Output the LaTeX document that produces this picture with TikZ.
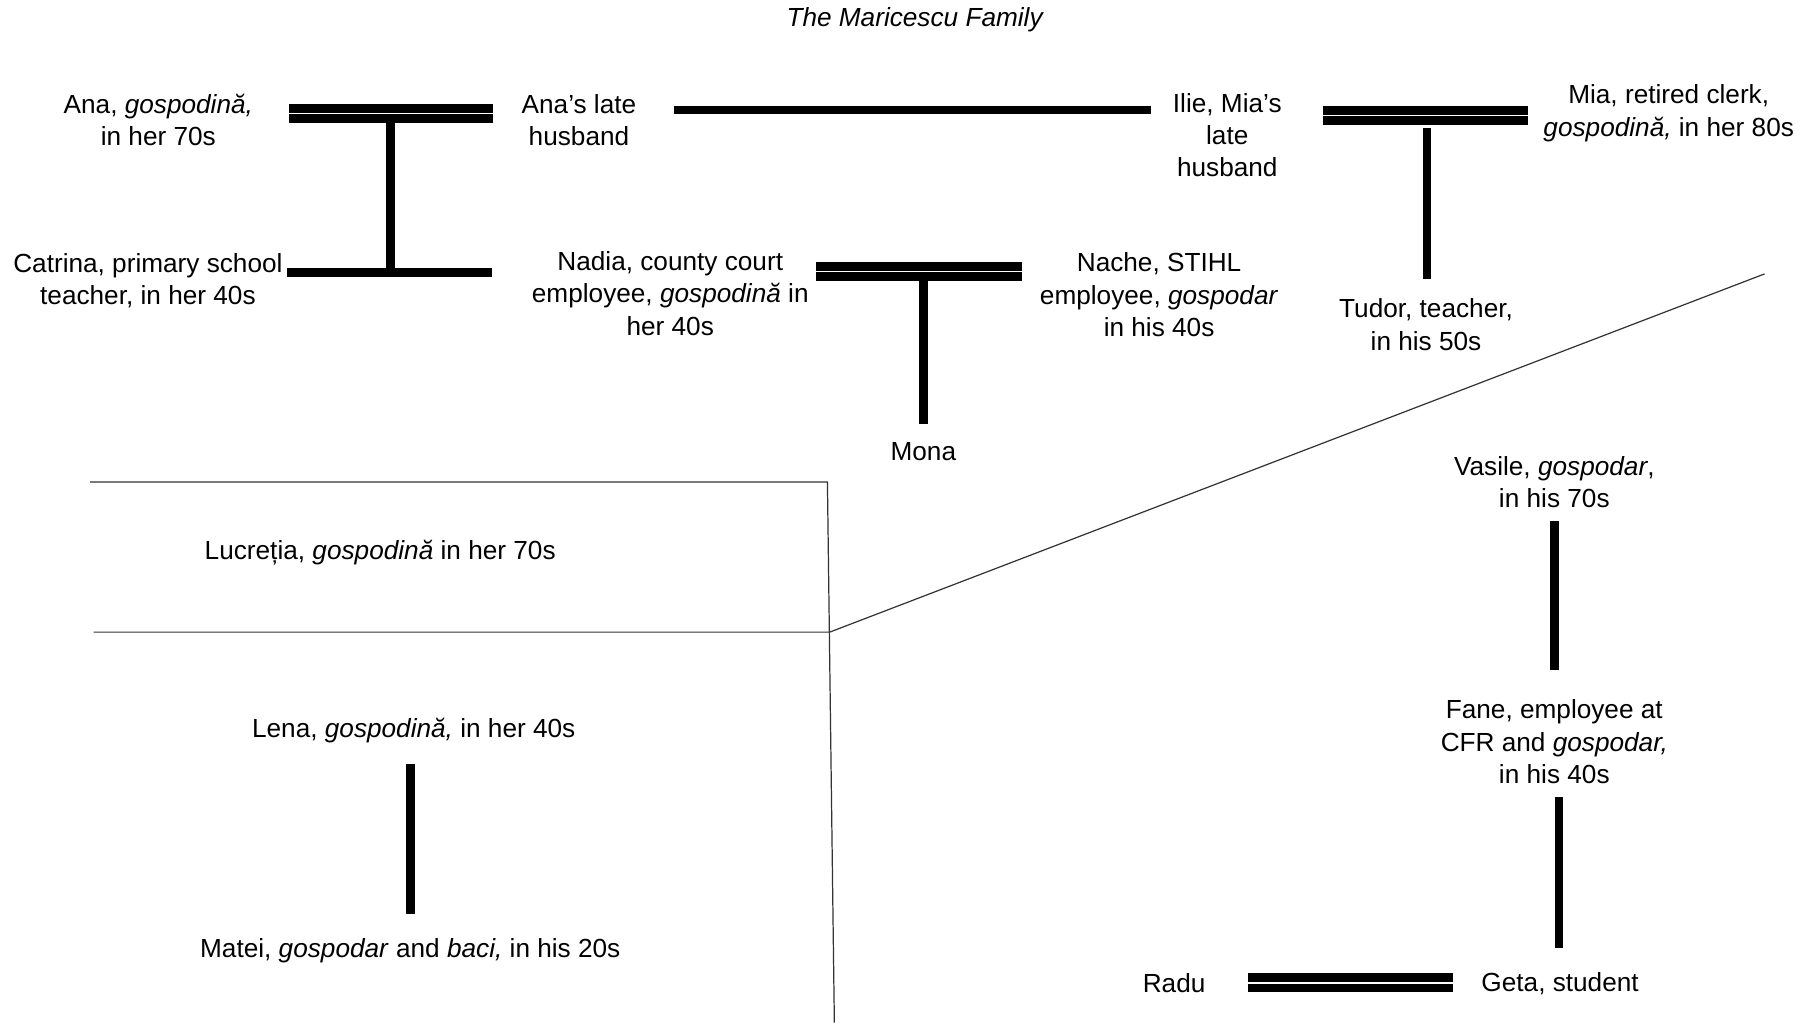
\documentclass[tikz,border=0pt]{standalone}
\usepackage{fontspec}
\setmainfont{Liberation Sans}
\begin{document}
\begin{tikzpicture}[x=0.02cm, y=-0.02cm,
		every node/.style={align=center, inner sep=0pt, font=\fontsize{12.9}{15.9}\selectfont},
		wed/.style={double, double distance=0.7pt, line width=4.3pt},
		kin/.style={line width=4.2pt},
		frame/.style={line width=0.6pt, black!80}]
	\useasboundingbox (0,0) rectangle (1568,885);
	
	% 1. 标题与人物
	\node (title) at (792,17) {\textit{The Maricescu Family}};
	\node (ana) at (137,104) {Ana, \textit{gospodină,}\\in her 70s};
	\node (anahusb) at (501,104) {Ana’s late\\husband};
	\node (ilie) at (1062,117) {Ilie, Mia’s\\late\\husband};
	\node (mia) at (1444,98) {Mia, retired clerk,\\\textit{gospodină,} in her 80s};
	\node (catrina) at (128,243) {Catrina, primary school\\teacher, in her 40s};
	\node (nadia) at (580,254) {Nadia, county court\\employee, \textit{gospodină} in\\her 40s};
	\node (nache) at (1003,255) {Nache, STIHL\\employee, \textit{gospodar}\\in his 40s};
	\node (tudor) at (1234,281) {Tudor, teacher,\\in his 50s};
	\node (mona) at (799,391) {Mona};
	\node (lucretia) at (329,478) {Lucreția, \textit{gospodină} in her 70s};
	\node (lena) at (358,632) {Lena, \textit{gospodină,} in her 40s};
	\node (matei) at (355,823) {Matei, \textit{gospodar} and \textit{baci,} in his 20s};
	\node (vasile) at (1345,417) {Vasile, \textit{gospodar},\\in his 70s};
	\node (fane) at (1345,642) {Fane, employee at\\CFR and \textit{gospodar,}\\in his 40s};
	\node (radu) at (1016,851) {Radu};
	\node (geta) at (1350,851) {Geta, student};
	
	% 2. 婚姻双线与兄弟线
	\coordinate (w1l) at (250,98); \coordinate (w1r) at (427,98);
	\coordinate (w2l) at (1145,100); \coordinate (w2r) at (1322,100);
	\coordinate (w3l) at (706,235); \coordinate (w3r) at (884,235);
	\coordinate (w4l) at (1080,850.5); \coordinate (w4r) at (1257,850.5);
	\coordinate (s1l) at (583,95); \coordinate (s1r) at (996,95);
	\coordinate (s2l) at (248,236); \coordinate (s2r) at (426,236);
	\draw[wed] (w1l) -- (w1r);
	\draw[wed] (w2l) -- (w2r);
	\draw[wed] (w3l) -- (w3r);
	\draw[wed] (w4l) -- (w4r);
	\draw[kin] (s1l) -- (s1r);
	\draw[kin] (s2l) -- (s2r);
	
	% 3. 子女竖线
	\coordinate (d1a) at (338,106); \coordinate (d1b) at (338,236);
	\coordinate (d2a) at (1235,110.5); \coordinate (d2b) at (1235,241);
	\coordinate (d3a) at (799,243); \coordinate (d3b) at (799,367);
	\coordinate (d4a) at (355,661); \coordinate (d4b) at (355,791);
	\coordinate (d5a) at (1345,451); \coordinate (d5b) at (1345,580);
	\coordinate (d6a) at (1349,690); \coordinate (d6b) at (1349,820);
	\draw[kin] (d1a) -- (d1b);
	\draw[kin] (d2a) -- (d2b);
	\draw[kin] (d3a) -- (d3b);
	\draw[kin] (d4a) -- (d4b);
	\draw[kin] (d5a) -- (d5b);
	\draw[kin] (d6a) -- (d6b);
	
	% 4. 细分隔线
	\coordinate (f1) at (78,417); \coordinate (f2) at (716,417); \coordinate (f3) at (722,885);
	\coordinate (f4) at (81,547); \coordinate (f5) at (718,547); \coordinate (f6) at (1527,237);
	\draw[frame] (f1) -- (f2) -- (f3);
	\draw[frame] (f4) -- (f5) -- (f6);
\end{tikzpicture}
\end{document}
